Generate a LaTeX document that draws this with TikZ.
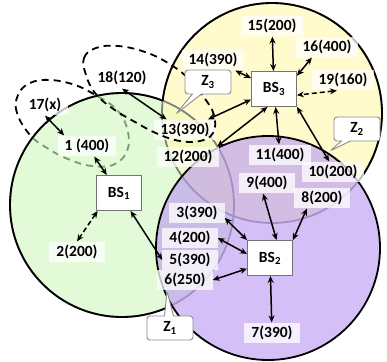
\documentclass[tikz,border=0pt]{standalone}
\usepackage{fontspec}
\setmainfont{Carlito}
\usetikzlibrary{arrows.meta,shapes.callouts}

\definecolor{greenbase}{RGB}{208,247,190}
\definecolor{yellowbase}{RGB}{255,249,175}
\definecolor{purplebase}{RGB}{186,152,242}

\tikzset{
  txt/.style={font=\bfseries\fontsize{15.5}{17}\selectfont},
  cell/.style={fill opacity=0.62},
  rim/.style={line width=1.8pt},
  ue/.style={txt, fill=white, fill opacity=0.75, text opacity=1,
             inner xsep=7pt, inner ysep=3.5pt},
  bs/.style={txt, draw=black!55, line width=0.9pt, fill=white,
             minimum width=45pt, minimum height=35pt},
  zone/.style={txt, rectangle callout, draw=black!45, fill=white,
               line width=0.9pt, rounded corners=3pt,
               minimum width=46pt, minimum height=24pt,
               callout pointer width=9pt},
  link/.style={line width=1.5pt,
               {Stealth[length=7pt,width=6pt]}-{Stealth[length=7pt,width=6pt]}},
  dlink/.style={link, dash pattern=on 5pt off 3pt},
  ring/.style={line width=1.8pt, dash pattern=on 7pt off 5pt}
}

\begin{document}
\begin{tikzpicture}[x=1pt, y=-1pt]
\useasboundingbox (0,0) rectangle (387,361);

% cell centres
\coordinate (cg) at (122,205);
\coordinate (cy) at (272,113);
\coordinate (cp) at (268,248);

% cooperation group around UE 17 and UE 1 (lies under the green cell)
\draw[ring] plot[smooth cycle, tension=0.7] coordinates {
  (30,135) (17,113) (18,95) (30,83) (50,80) (75,85) (97,96) (115,108)
  (126,125) (128,148) (115,164) (92,166) (68,159) (47,148)};

% cell coverage areas
\fill[greenbase, cell] (cg) circle[radius=112pt];
\fill[yellowbase, cell] (cy) circle[radius=110pt];
\draw[rim, black!50] (cg) circle[radius=112pt];
\draw[rim, black!50] (cy) circle[radius=110pt];
\fill[purplebase, cell] (cp) circle[radius=112pt];

% outer borders of the cells
\begin{scope}[even odd rule]
  \clip (-20,-20) rectangle (420,400) (cy) circle[radius=110pt];
  \begin{scope}[even odd rule]
    \clip (-20,-20) rectangle (420,400) (cp) circle[radius=112pt];
    \draw[rim] (cg) circle[radius=112pt];
  \end{scope}
\end{scope}
\begin{scope}[even odd rule]
  \clip (-20,-20) rectangle (420,400) (cg) circle[radius=112pt];
  \begin{scope}[even odd rule]
    \clip (-20,-20) rectangle (420,400) (cp) circle[radius=112pt];
    \draw[rim] (cy) circle[radius=110pt];
  \end{scope}
\end{scope}
\draw[rim] (cp) circle[radius=112pt];

% base stations
\node[bs] (BS1) at (119,193) {BS\textsubscript{1}};
\node[bs] (BS2) at (270,258) {BS\textsubscript{2}};
\node[bs] (BS3) at (274,89) {BS\textsubscript{3}};

% user equipments
\node[ue] (n1)  at (87,146)  {1 (400)};
\node[ue] (n2)  at (77,252)  {2(200)};
\node[ue] (n3)  at (197,213) {3(390)};
\node[ue] (n4)  at (190,238) {4(200)};
\node[ue] (n5)  at (190,260) {5(390)};
\node[ue] (n6)  at (185,280) {6(250)};
\node[ue] (n7)  at (272,333) {7(390)};
\node[ue] (n8)  at (322,198) {8(200)};
\node[ue] (n9)  at (267,183) {9(400)};
\node[ue] (n10) at (333,172) {10(200)};
\node[ue] (n11) at (280,155) {11(400)};
\node[ue] (n12) at (188,157) {12(200)};
\node[ue] (n13) at (185,130) {13(390)};
\node[ue] (n14) at (213,60)  {14(390)};
\node[ue] (n15) at (272,26)  {15(200)};
\node[ue] (n16) at (327,47)  {16(400)};
\node[ue] (n17) at (45,105)  {17(x)};
\node[ue] (n18) at (122,78)  {18(120)};
\node[ue] (n19) at (343,80)  {19(160)};

% cooperation group around UE 18 and UE 13
\draw[ring] plot[smooth cycle, tension=0.7] coordinates {
  (86,75) (84,58) (96,48) (118,46) (145,52) (168,63) (188,78) (203,96)
  (214,115) (213,133) (200,141) (180,141) (158,134) (135,122) (112,108) (95,93)};

% zone callouts
\node[zone, callout absolute pointer={(176,114)}] (z3) at (208,82) {Z\textsubscript{3}};
\node[zone, callout absolute pointer={(330,151)}] (z2) at (357,129) {Z\textsubscript{2}};
\node[zone, callout absolute pointer={(167,291)}] (z1) at (170,328) {Z\textsubscript{1}};

% links of BS1
\draw[link] (n1) -- (BS1);
\draw[link] (n17.south) -- (n1.155);
\draw[dlink] (BS1.220) -- (n2.north);
\draw[link] (BS1) -- (n5.west);
\draw[link] (n18.south) -- (n13.150);

% links of BS3
\draw[link] (n13) -- (BS3);
\draw[link] (n14) -- (BS3);
\draw[link] (n15) -- (BS3);
\draw[link] (n16.215) -- (BS3.30);
\draw[dlink] (n19.240) -- (BS3.-15);
\draw[link] (n12.20) -- (BS3.250);
\draw[link] (n11) -- (BS3);
\draw[link] (n10.110) -- (BS3.south east);

% links of BS2
\draw[link] (n9.250) -- (BS2.70);
\draw[link] (n8.215) -- (BS2.north east);
\draw[link] (n3.-10) -- (BS2.north west);
\draw[link] (n4.east) -- (BS2.170);
\draw[link] (n6.east) -- (BS2.205);
\draw[link] (n7) -- (BS2);
\end{tikzpicture}
\end{document}
